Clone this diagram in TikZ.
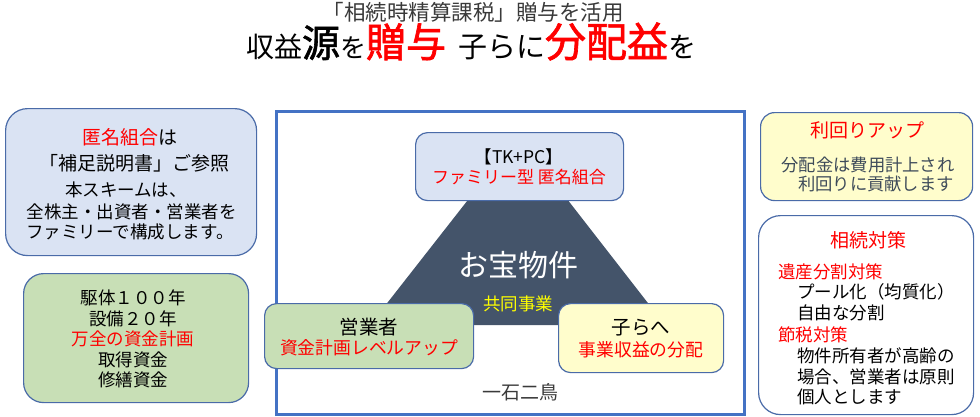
\documentclass[tikz,border=0pt]{standalone}
\usepackage{fontspec}
\setmainfont{Noto Sans CJK JP}
\newfontfamily\jpbold[FakeBold=1.6]{Noto Sans CJK JP}
\definecolor{bxline}{HTML}{4A6BA8}
\definecolor{frameblue}{HTML}{4472C4}
\definecolor{fblue}{HTML}{DAE3F3}
\definecolor{fgreen}{HTML}{C8DFB6}
\definecolor{fyellow}{HTML}{FFFDCC}
\definecolor{slate}{HTML}{44546A}
\definecolor{txtgray}{HTML}{3A3A3A}
\definecolor{txtslate}{HTML}{3E4B5A}
\definecolor{jred}{HTML}{FF0000}
\definecolor{jyellow}{HTML}{FFFF00}
\newcommand{\fs}[1]{\fontsize{#1}{#1}\selectfont}
\begin{document}
\begin{tikzpicture}[x=1pt,y=-1pt,
  box/.style={draw=bxline, line width=1.2pt, anchor=north west, inner sep=0},
  txt/.style={inner sep=0, font=\fs{#1}},
  mtxt/.style={inner sep=0, align=center, font=\fontsize{#1}{20.5}\selectfont}
]
\useasboundingbox (0,0) rectangle (980,416);
% titles
\node[txt=21.5, text=txtgray] (t1) at (473,12) {「相続時精算課税」贈与を活用};
\node[inner sep=0, anchor=base] (t2) at (471,57) {{\fs{28}収益}{\jpbold\fs{38}源}{\fs{26}を}{\jpbold\fs{40}\color{jred}贈与}\hspace{12pt}{\fs{29}子らに}{\jpbold\fs{41}\color{jred}分配益}{\fs{28}を}};
% left top box
\node[box, fill=fblue, rounded corners=22pt, minimum width=251pt, minimum height=147pt] (lt) at (5,108) {};
\node[txt=19] (lt1) at (130,137) {\textcolor{jred}{匿名組合}は};
\node[txt=19] (lt2) at (134,163) {「補足説明書」ご参照};
\node[txt=17.5] (lt3) at (126,190) {本スキームは、};
\node[txt=17.5] (lt4) at (132,212) {全株主・出資者・営業者を};
\node[txt=17.5] (lt5) at (130,232) {ファミリーで構成します。};
% left bottom box
\node[box, fill=fgreen, rounded corners=20pt, minimum width=225pt, minimum height=129pt] (lb) at (23,273) {};
\node[mtxt=17.5] (lbt) at (133,339) {駆体１００年\\設備２０年\\\textcolor{jred}{万全の資金計画}\\取得資金\\修繕資金};
% center frame
\node[draw=frameblue, line width=2.6pt, anchor=north west, inner sep=0, minimum width=468pt, minimum height=303pt] (fr) at (275,110) {};
\fill[slate] (518,136) -- (370,325) -- (665,325) -- cycle;
% top box
\node[box, fill=fblue, rounded corners=12pt, minimum width=208pt, minimum height=68pt] (tp) at (415,132) {};
\node[txt=17.5] (tp1) at (519,157) {【TK+PC】};
\node[txt=17, text=jred] (tp2) at (519,177) {ファミリー型 匿名組合};
\node[txt=30, text=white] (ot) at (518,265) {お宝物件};
\node[txt=17.5, text=jyellow] (kd) at (518,304) {共同事業};
% operator box
\node[box, fill=fgreen, rounded corners=12pt, minimum width=209pt, minimum height=65pt] (op) at (264,303) {};
\node[txt=19.5] (op1) at (369,327) {営業者};
\node[txt=17.8, text=jred] (op2) at (369,348) {資金計画レベルアップ};
% children box
\node[box, fill=fyellow, rounded corners=12pt, minimum width=165pt, minimum height=69pt] (ko) at (558,303) {};
\node[txt=19.5] (ko1) at (641,328) {子らへ};
\node[txt=17.8, text=jred] (ko2) at (641,350) {事業収益の分配};
\node[txt=19, text=txtgray] (ik) at (520,392) {一石二鳥};
% right top box
\node[box, fill=fyellow, rounded corners=14pt, minimum width=212pt, minimum height=88pt] (rt) at (760,112) {};
\node[txt=19, text=jred] (rt1) at (867,130) {利回りアップ};
\node[txt=17.3, text=txtslate] (rt2) at (868,165) {分配金は費用計上され};
\node[txt=17.3, text=txtslate] (rt3) at (876,184) {利回りに貢献します};
% right bottom box
\node[box, fill=white, rounded corners=22pt, minimum width=215pt, minimum height=199pt] (rb) at (758,215) {};
\node[txt=19, text=jred] (rb0) at (868,240) {相続対策};
\node[txt=17.5, text=jred, anchor=west] (rb1) at (778,272) {遺産分割対策};
\node[txt=17.5, anchor=west] (rb2) at (797,292) {プール化（均質化）};
\node[txt=17.5, anchor=west] (rb3) at (797,313) {自由な分割};
\node[txt=17.5, text=jred, anchor=west] (rb4) at (778,335) {節税対策};
\node[txt=17.5, anchor=west] (rb5) at (797,356) {物件所有者が高齢の};
\node[txt=17.5, anchor=west] (rb6) at (797,377) {場合、営業者は原則};
\node[txt=17.5, anchor=west] (rb7) at (797,397) {個人とします};
\end{tikzpicture}
\end{document}
